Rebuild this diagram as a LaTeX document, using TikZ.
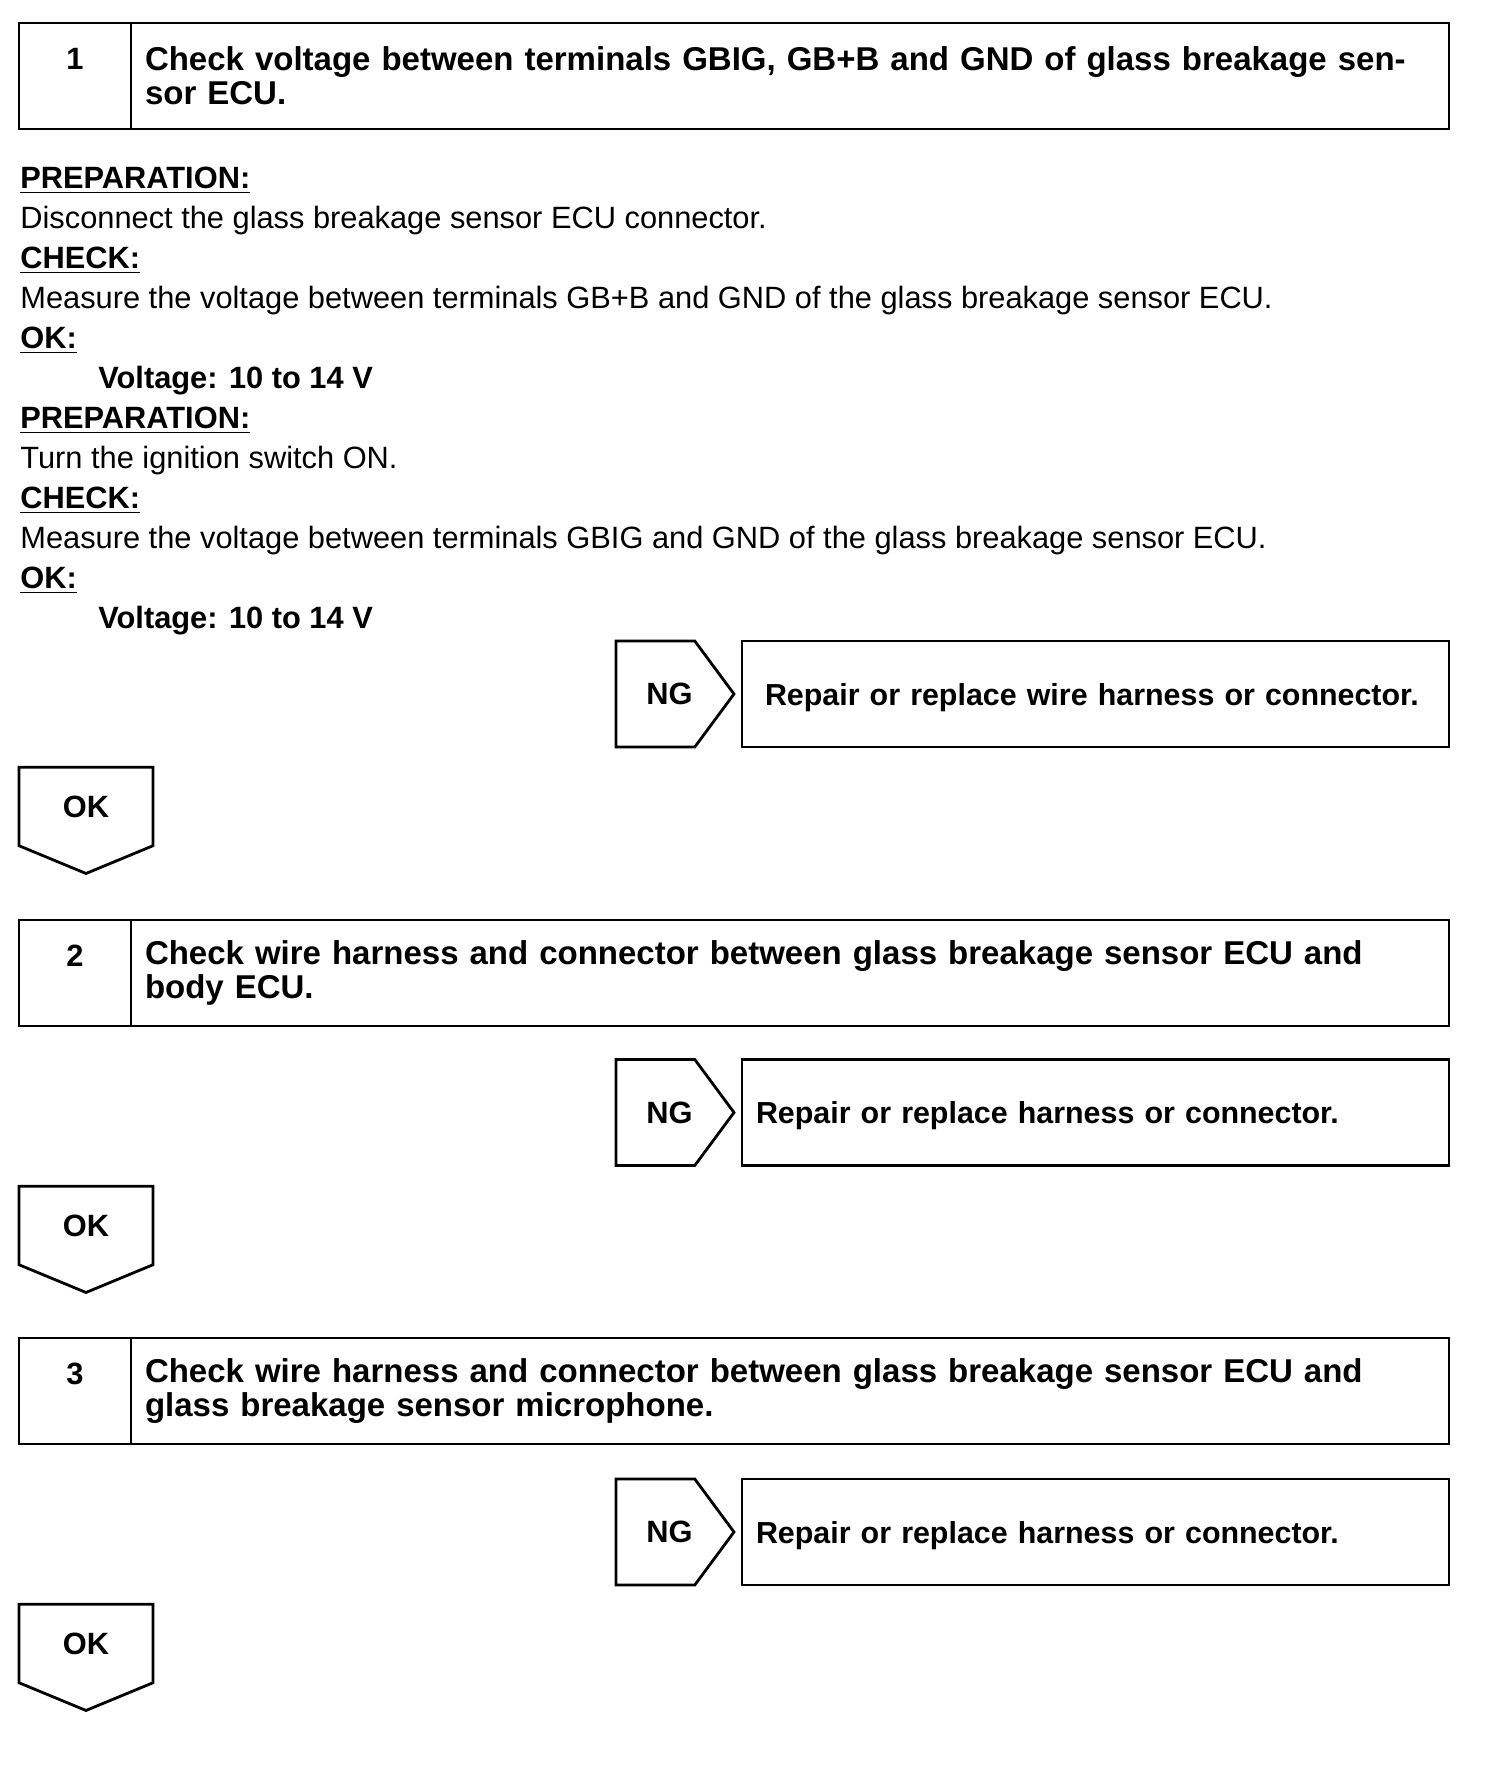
\documentclass[tikz,border=0pt]{standalone}
\usepackage{fontspec}
\setmainfont{Liberation Sans}
\usepackage{tikz}
\usetikzlibrary{shapes.symbols,positioning}
\newcommand{\hdr}[1]{\underline{\textbf{#1}}}
\newcommand{\spec}[1]{\hspace*{39pt}\textbf{#1}}

\begin{document}
\begin{tikzpicture}[
  x=0.5pt, y=-0.5pt,
  txt/.style={font=\fontsize{15.4}{20}\selectfont},
  frame/.style={draw, line width=1.4pt, inner sep=0pt, outer sep=0pt},
  numcell/.style={frame, minimum width=56pt, minimum height=53pt},
  numtxt/.style={font=\bfseries\fontsize{15.4}{20}\selectfont, inner sep=0pt},
  stepcell/.style={frame, minimum width=659pt, minimum height=53pt, inner xsep=7pt,
    text width=645pt, align=left, font=\bfseries\fontsize{16.5}{17}\selectfont},
  body/.style={txt, align=left, anchor=north west, inner sep=0pt},
  ngtag/.style={frame, signal, signal to=east, signal pointer angle=107,
    minimum width=59pt, minimum height=53pt,
    label={[numtxt, xshift=7pt]center:NG}},
  fixbox/.style={frame, minimum width=353.5pt, minimum height=53pt, inner xsep=7pt,
    text width=339.5pt, text depth=0pt, align=left, font=\bfseries\fontsize{15.2}{17}\selectfont},
  oktag/.style={frame, signal, signal to=south, signal pointer angle=135,
    minimum width=67pt, minimum height=44pt, font=\bfseries\fontsize{15.4}{17}\selectfont}
]
\useasboundingbox[fill=white] (0,0) rectangle (1504,1768);

% Step 1
\node[numcell] (s1no) at (75,76) {};
\node[numtxt] (s1nr) at (75,59) {1};
\node[stepcell, right=0pt of s1no] (s1) {Check voltage between terminals GBIG, GB+B and GND of glass breakage sen-\\sor ECU.};
\node[body] (s1body) at (20,167) {%
\hdr{PREPARATION:}\\
Disconnect the glass breakage sensor ECU connector.\\
\hdr{CHECK:}\\
Measure the voltage between terminals GB+B and GND of the glass breakage sensor ECU.\\
\hdr{OK:}\\
\spec{Voltage: 10 to 14 V}\\
\hdr{PREPARATION:}\\
Turn the ignition switch ON.\\
\hdr{CHECK:}\\
Measure the voltage between terminals GBIG and GND of the glass breakage sensor ECU.\\
\hdr{OK:}\\
\spec{Voltage: 10 to 14 V}};
\node[fixbox, inner xsep=11.5pt, text width=330.5pt] (fix1) at (1095.5,694) {Repair or replace wire harness or connector.};
\node[ngtag, left=4pt of fix1] (ng1) {};
\node[oktag] (ok1) at (86,806.5) {OK};

% Step 2
\node[numcell] (s2no) at (75,973) {};
\node[numtxt] (s2nr) at (75,956) {2};
\node[stepcell, right=0pt of s2no] (s2) {Check wire harness and connector between glass breakage sensor ECU and\\body ECU.};
\node[fixbox] (fix2) at (1095.5,1112.5) {Repair or replace harness or connector.};
\node[ngtag, left=4pt of fix2] (ng2) {};
\node[oktag] (ok2) at (86,1225.5) {OK};

% Step 3
\node[numcell] (s3no) at (75,1391) {};
\node[numtxt] (s3nr) at (75,1374) {3};
\node[stepcell, right=0pt of s3no] (s3) {Check wire harness and connector between glass breakage sensor ECU and\\glass breakage sensor microphone.};
\node[fixbox] (fix3) at (1095.5,1532) {Repair or replace harness or connector.};
\node[ngtag, left=4pt of fix3] (ng3) {};
\node[oktag] (ok3) at (86,1643.5) {OK};

\end{tikzpicture}
\end{document}
